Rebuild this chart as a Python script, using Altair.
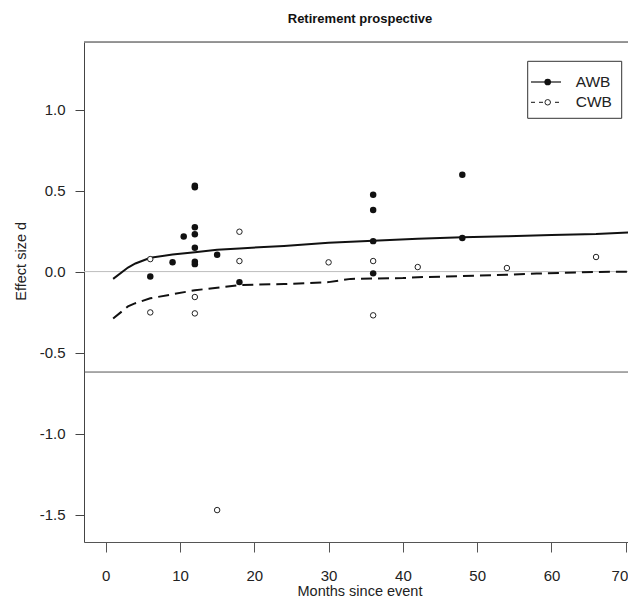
import altair as alt
import pandas as pd

FONT = "Liberation Sans"

# ---- data ----
awb_x = [6, 9, 10.5, 12, 12, 12, 12, 12, 12, 12, 15, 18, 36, 36, 36, 36, 48, 48]
awb_y = [-0.03, 0.057, 0.217, 0.52, 0.53, 0.273, 0.23, 0.147, 0.06, 0.046, 0.104, -0.065,
         0.474, 0.38, 0.188, -0.011, 0.598, 0.207]

cwb_x = [6, 6, 12, 12, 15, 18, 18, 30, 36, 36, 42, 54, 66]
cwb_y = [0.077, -0.252, -0.157, -0.258, -1.472, 0.246, 0.065, 0.057, 0.065, -0.27, 0.028, 0.022, 0.09]

awb_line_x = [1, 3, 4, 6, 9, 12, 15, 18, 24, 30, 36, 42, 48, 54, 60, 66, 72]
awb_line_y = [-0.045, 0.025, 0.05, 0.085, 0.105, 0.12, 0.135, 0.143, 0.158, 0.178, 0.19,
              0.202, 0.212, 0.218, 0.226, 0.232, 0.245]

cwb_line_x = [1, 3, 4, 6, 9, 12, 15, 18, 24, 30, 33, 40, 42, 54, 58, 66, 72]
cwb_line_y = [-0.29, -0.215, -0.195, -0.165, -0.14, -0.115, -0.1, -0.083, -0.077, -0.065,
              -0.045, -0.04, -0.035, -0.02, -0.012, -0.002, 0.0]

ref_zero = [0.0]
ref_line = [-0.62]

x_ticks = [0, 10, 20, 30, 40, 50, 60, 70]
y_ticks = [-1.5, -1.0, -0.5, 0.0, 0.5, 1.0]
series_names = ["AWB", "CWB"]

title_text = "Retirement prospective"
x_title = "Months since event"
y_title = "Effect size d"

W, H = 544, 500
XDOM = [-2.92, 70.3]
YDOM = [-1.669, 1.417]

xs = alt.Scale(domain=XDOM, nice=False, zero=False)
ys = alt.Scale(domain=YDOM, nice=False, zero=False)

hyphen_1f = "datum.value < 0 ? '-' + format(-datum.value, '.1f') : format(datum.value, '.1f')"

x_axis = alt.Axis(values=x_ticks, title=None, grid=False, tickSize=10, labelPadding=16,
                  labelFont=FONT, labelFontSize=15, labelColor="#222", domainColor="#555",
                  tickColor="#555", labelAngle=0, format="d",
                  labelAlign=alt.condition("datum.value >= 70", alt.value("right"), alt.value("center")),
                  labelOffset=alt.condition("datum.value >= 70", alt.value(2), alt.value(0)))
y_axis = alt.Axis(values=y_ticks, title=None, grid=False, tickSize=9, labelPadding=10,
                  labelFont=FONT, labelFontSize=15, labelColor="#222", domainColor="#444",
                  tickColor="#444", labelExpr=hyphen_1f)

one = pd.DataFrame({"k": [0]})

# reference lines
zero_df = pd.DataFrame({"y": ref_zero})
zero_rule = alt.Chart(zero_df).mark_rule(color="#bdbdbd", strokeWidth=1).encode(
    y=alt.Y("y:Q", scale=ys, axis=y_axis))
ref_df = pd.DataFrame({"y": ref_line})
ref_rule = alt.Chart(ref_df).mark_rule(color="#555", strokeWidth=1).encode(
    y=alt.Y("y:Q", scale=ys))
top_rule = alt.Chart(one).mark_rule(color="#777", strokeWidth=1.5).encode(
    x=alt.value(0), x2=alt.value(W), y=alt.value(0))

# curves
awb_line_df = pd.DataFrame({"x": awb_line_x, "y": awb_line_y})
cwb_line_df = pd.DataFrame({"x": cwb_line_x, "y": cwb_line_y})
awb_line = alt.Chart(awb_line_df).mark_line(color="#111", strokeWidth=2, clip=True).encode(
    x=alt.X("x:Q", scale=xs, axis=x_axis), y=alt.Y("y:Q", scale=ys))
cwb_line = alt.Chart(cwb_line_df).mark_line(color="#111", strokeWidth=2, strokeDash=[11, 6],
                                            clip=True).encode(
    x=alt.X("x:Q", scale=xs), y=alt.Y("y:Q", scale=ys))

# points
awb_df = pd.DataFrame({"x": awb_x, "y": awb_y})
cwb_df = pd.DataFrame({"x": cwb_x, "y": cwb_y})
awb_pts = alt.Chart(awb_df).mark_circle(color="#111", size=42, opacity=1).encode(
    x=alt.X("x:Q", scale=xs), y=alt.Y("y:Q", scale=ys))
cwb_pts = alt.Chart(cwb_df).mark_point(shape="circle", color="#222", filled=False, fill="white",
                                       size=30, strokeWidth=1, opacity=1).encode(
    x=alt.X("x:Q", scale=xs), y=alt.Y("y:Q", scale=ys))

# legend (drawn by hand, R style)
leg_box = alt.Chart(one).mark_rect(fill="white", stroke="#333", strokeWidth=1).encode(
    x=alt.value(443.7), x2=alt.value(537.7), y=alt.value(19.3), y2=alt.value(76.3))
leg_l1 = alt.Chart(one).mark_rule(color="#111", strokeWidth=1.2).encode(
    x=alt.value(447), x2=alt.value(477), y=alt.value(40))
leg_l2 = alt.Chart(one).mark_rule(color="#111", strokeWidth=1, strokeDash=[4, 4]).encode(
    x=alt.value(447), x2=alt.value(477), y=alt.value(60.3))
leg_p1 = alt.Chart(one).mark_circle(color="#111", size=45, opacity=1).encode(
    x=alt.value(463.7), y=alt.value(40))
leg_p2 = alt.Chart(one).mark_point(shape="circle", color="#222", fill="white", filled=False,
                                   size=30, strokeWidth=1, opacity=1).encode(
    x=alt.value(463.7), y=alt.value(60.3))
leg_df = pd.DataFrame({"name": series_names, "pos": [40, 60.3]})
leg_t = alt.Chart(leg_df).mark_text(font=FONT, fontSize=15.5, align="left", baseline="middle",
                                    color="#222").encode(
    x=alt.value(491.7), y=alt.Y("pos:Q", scale=None), text="name:N")

# titles as text
t_main = alt.Chart(one).mark_text(font=FONT, fontSize=13, fontWeight="bold", align="center",
                                  baseline="middle", color="#111", text=title_text).encode(
    x=alt.value(276), y=alt.value(-22.7))
t_x = alt.Chart(one).mark_text(font=FONT, fontSize=14.5, align="center", baseline="middle",
                               color="#222", text=x_title).encode(
    x=alt.value(276), y=alt.value(550))
t_y = alt.Chart(one).mark_text(font=FONT, fontSize=14.5, align="center", baseline="middle",
                               angle=270, color="#222", text=y_title).encode(
    x=alt.value(-62), y=alt.value(219.3))

chart = alt.layer(
    zero_rule, ref_rule, top_rule, cwb_line, awb_line, awb_pts, cwb_pts,
    leg_box, leg_l1, leg_l2, leg_p1, leg_p2, leg_t, t_main, t_x, t_y
).properties(
    width=W, height=H,
    autosize=alt.AutoSizeParams(type="none"),
    padding={"left": 76, "top": 34, "right": 0, "bottom": 60},
).configure_view(stroke=None).configure(background="white")

chart.save("out.html", embed_options={"renderer": "svg", "actions": False})
